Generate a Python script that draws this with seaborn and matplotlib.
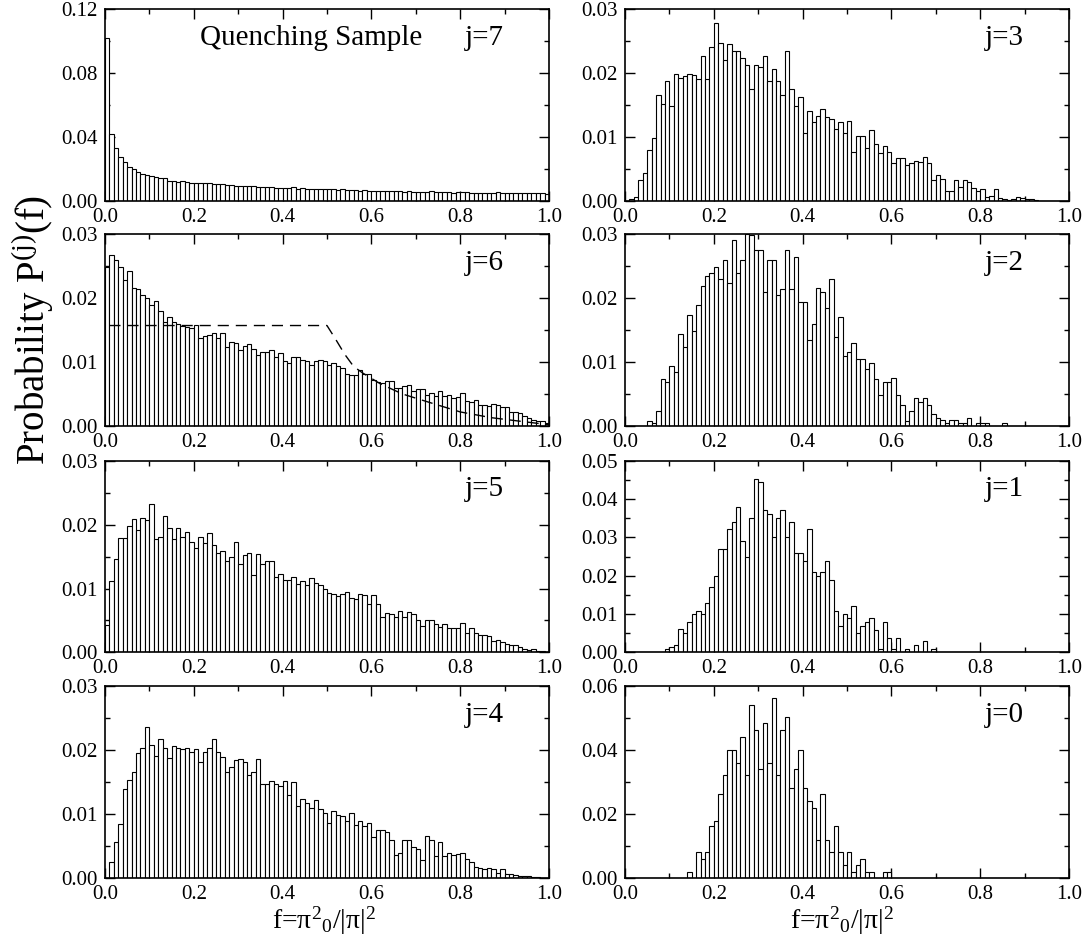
import numpy as np
import pandas as pd
import matplotlib
matplotlib.use("Agg")
import matplotlib.pyplot as plt
import seaborn as sns
from matplotlib.ticker import MultipleLocator, FormatStrFormatter

# 100 bins of width 0.01 on [0, 1]
edges = np.linspace(0.0, 1.0, 101)
centers = (edges[:-1] + edges[1:]) / 2

# probability per bin
p7 = [0.1018, 0.0417, 0.0330, 0.0273, 0.0242, 0.0211, 0.0198, 0.0182, 0.0169, 0.0163,
      0.0157, 0.0148, 0.0142, 0.0142, 0.0125, 0.0125, 0.0121, 0.0125, 0.0117, 0.0115,
      0.0115, 0.0110, 0.0110, 0.0110, 0.0106, 0.0104, 0.0104, 0.0100, 0.0100, 0.0096,
      0.0096, 0.0094, 0.0094, 0.0094, 0.0090, 0.0090, 0.0086, 0.0086, 0.0084, 0.0083,
      0.0081, 0.0083, 0.0086, 0.0077, 0.0079, 0.0075, 0.0075, 0.0075, 0.0073, 0.0073,
      0.0073, 0.0073, 0.0069, 0.0073, 0.0069, 0.0067, 0.0067, 0.0063, 0.0067, 0.0065,
      0.0063, 0.0065, 0.0065, 0.0063, 0.0063, 0.0061, 0.0061, 0.0058, 0.0061, 0.0058,
      0.0056, 0.0058, 0.0056, 0.0061, 0.0056, 0.0058, 0.0054, 0.0054, 0.0052, 0.0056,
      0.0056, 0.0054, 0.0052, 0.0052, 0.0052, 0.0050, 0.0052, 0.0052, 0.0054, 0.0052,
      0.0050, 0.0050, 0.0052, 0.0050, 0.0050, 0.0052, 0.0052, 0.0050, 0.0048, 0.0044]

p6 = [0.0249, 0.0268, 0.0260, 0.0249, 0.0228, 0.0242, 0.0215, 0.0214, 0.0205, 0.0200,
      0.0189, 0.0195, 0.0180, 0.0163, 0.0170, 0.0163, 0.0159, 0.0156, 0.0155, 0.0153,
      0.0158, 0.0138, 0.0140, 0.0142, 0.0145, 0.0137, 0.0145, 0.0124, 0.0131, 0.0129,
      0.0119, 0.0125, 0.0128, 0.0121, 0.0111, 0.0115, 0.0116, 0.0118, 0.0108, 0.0114,
      0.0101, 0.0099, 0.0108, 0.0108, 0.0103, 0.0101, 0.0095, 0.0101, 0.0103, 0.0101,
      0.0095, 0.0099, 0.0093, 0.0090, 0.0081, 0.0079, 0.0080, 0.0088, 0.0082, 0.0082,
      0.0072, 0.0069, 0.0067, 0.0070, 0.0070, 0.0059, 0.0059, 0.0063, 0.0064, 0.0054,
      0.0058, 0.0058, 0.0049, 0.0051, 0.0047, 0.0054, 0.0047, 0.0049, 0.0044, 0.0046,
      0.0052, 0.0039, 0.0038, 0.0041, 0.0033, 0.0033, 0.0032, 0.0035, 0.0033, 0.0030,
      0.0029, 0.0022, 0.0022, 0.0020, 0.0015, 0.0012, 0.0010, 0.0008, 0.0008, 0.0004]

p5 = [0.0043, 0.0112, 0.0146, 0.0179, 0.0179, 0.0198, 0.0209, 0.0192, 0.0210, 0.0207,
      0.0232, 0.0177, 0.0180, 0.0214, 0.0195, 0.0178, 0.0195, 0.0181, 0.0189, 0.0173,
      0.0164, 0.0180, 0.0171, 0.0187, 0.0168, 0.0155, 0.0159, 0.0143, 0.0149, 0.0172,
      0.0139, 0.0153, 0.0156, 0.0121, 0.0154, 0.0139, 0.0143, 0.0143, 0.0118, 0.0122,
      0.0114, 0.0114, 0.0118, 0.0107, 0.0111, 0.0105, 0.0117, 0.0109, 0.0105, 0.0100,
      0.0093, 0.0092, 0.0088, 0.0091, 0.0094, 0.0085, 0.0083, 0.0091, 0.0090, 0.0076,
      0.0090, 0.0076, 0.0056, 0.0062, 0.0060, 0.0056, 0.0065, 0.0055, 0.0064, 0.0060,
      0.0051, 0.0041, 0.0051, 0.0051, 0.0044, 0.0040, 0.0045, 0.0039, 0.0039, 0.0038,
      0.0046, 0.0031, 0.0038, 0.0030, 0.0028, 0.0027, 0.0025, 0.0018, 0.0020, 0.0017,
      0.0013, 0.0011, 0.0011, 0.0009, 0.0005, 0.0004, 0.0005, 0.0002, 0.0002, 0.0001]

p4 = [0.0001, 0.0025, 0.0056, 0.0085, 0.0140, 0.0154, 0.0166, 0.0195, 0.0203, 0.0237,
      0.0208, 0.0191, 0.0217, 0.0203, 0.0188, 0.0207, 0.0204, 0.0202, 0.0203, 0.0198,
      0.0202, 0.0182, 0.0197, 0.0204, 0.0218, 0.0197, 0.0190, 0.0166, 0.0174, 0.0185,
      0.0187, 0.0182, 0.0162, 0.0166, 0.0186, 0.0147, 0.0147, 0.0152, 0.0148, 0.0144,
      0.0152, 0.0130, 0.0151, 0.0113, 0.0124, 0.0117, 0.0110, 0.0122, 0.0108, 0.0102,
      0.0087, 0.0105, 0.0099, 0.0097, 0.0089, 0.0102, 0.0083, 0.0090, 0.0081, 0.0086,
      0.0065, 0.0076, 0.0075, 0.0072, 0.0059, 0.0037, 0.0040, 0.0060, 0.0059, 0.0049,
      0.0046, 0.0029, 0.0066, 0.0059, 0.0035, 0.0056, 0.0035, 0.0040, 0.0037, 0.0038,
      0.0040, 0.0030, 0.0026, 0.0017, 0.0016, 0.0015, 0.0016, 0.0014, 0.0008, 0.0014,
      0.0007, 0.0006, 0.0005, 0.0004, 0.0003, 0.0003, 0.0002, 0.0002, 0.0001, 0.0001]

p3 = [0.0000, 0.0003, 0.0007, 0.0033, 0.0043, 0.0080, 0.0098, 0.0166, 0.0152, 0.0188,
      0.0149, 0.0199, 0.0192, 0.0195, 0.0199, 0.0197, 0.0190, 0.0226, 0.0190, 0.0240,
      0.0278, 0.0247, 0.0221, 0.0245, 0.0234, 0.0235, 0.0223, 0.0213, 0.0175, 0.0213,
      0.0210, 0.0227, 0.0188, 0.0206, 0.0188, 0.0166, 0.0234, 0.0175, 0.0148, 0.0162,
      0.0107, 0.0140, 0.0124, 0.0133, 0.0143, 0.0131, 0.0128, 0.0112, 0.0123, 0.0107,
      0.0125, 0.0077, 0.0101, 0.0101, 0.0083, 0.0111, 0.0089, 0.0075, 0.0086, 0.0077,
      0.0059, 0.0067, 0.0067, 0.0056, 0.0059, 0.0062, 0.0061, 0.0069, 0.0059, 0.0033,
      0.0041, 0.0035, 0.0016, 0.0015, 0.0033, 0.0022, 0.0033, 0.0030, 0.0020, 0.0015,
      0.0018, 0.0007, 0.0008, 0.0018, 0.0004, 0.0003, 0.0002, 0.0003, 0.0006, 0.0004,
      0.0003, 0.0003, 0.0001, 0.0000, 0.0000, 0.0000, 0.0000, 0.0000, 0.0000, 0.0000]

p2 = [0.0000, 0.0000, 0.0000, 0.0000, 0.0000, 0.0008, 0.0004, 0.0024, 0.0074, 0.0069,
      0.0094, 0.0085, 0.0144, 0.0124, 0.0174, 0.0149, 0.0189, 0.0219, 0.0234, 0.0239,
      0.0248, 0.0230, 0.0260, 0.0224, 0.0290, 0.0239, 0.0260, 0.0300, 0.0298, 0.0275,
      0.0275, 0.0209, 0.0260, 0.0260, 0.0205, 0.0214, 0.0275, 0.0214, 0.0264, 0.0194,
      0.0194, 0.0134, 0.0160, 0.0215, 0.0209, 0.0185, 0.0230, 0.0139, 0.0170, 0.0110,
      0.0115, 0.0129, 0.0104, 0.0104, 0.0089, 0.0099, 0.0074, 0.0049, 0.0069, 0.0069,
      0.0075, 0.0049, 0.0033, 0.0008, 0.0024, 0.0043, 0.0038, 0.0043, 0.0033, 0.0019,
      0.0013, 0.0009, 0.0004, 0.0009, 0.0009, 0.0004, 0.0004, 0.0013, 0.0000, 0.0004,
      0.0004, 0.0004, 0.0000, 0.0000, 0.0000, 0.0004, 0.0000, 0.0000, 0.0000, 0.0000,
      0.0000, 0.0000, 0.0000, 0.0000, 0.0000, 0.0000, 0.0000, 0.0000, 0.0000, 0.0000]

p1 = [0.0000, 0.0000, 0.0000, 0.0000, 0.0000, 0.0000, 0.0000, 0.0000, 0.0000, 0.0010,
      0.0013, 0.0019, 0.0060, 0.0050, 0.0080, 0.0100, 0.0109, 0.0100, 0.0130, 0.0170,
      0.0199, 0.0270, 0.0270, 0.0321, 0.0339, 0.0380, 0.0290, 0.0250, 0.0350, 0.0451,
      0.0443, 0.0370, 0.0361, 0.0300, 0.0350, 0.0370, 0.0300, 0.0341, 0.0260, 0.0260,
      0.0239, 0.0321, 0.0209, 0.0199, 0.0209, 0.0239, 0.0190, 0.0109, 0.0070, 0.0100,
      0.0089, 0.0121, 0.0050, 0.0070, 0.0080, 0.0089, 0.0058, 0.0010, 0.0080, 0.0039,
      0.0010, 0.0039, 0.0000, 0.0010, 0.0000, 0.0019, 0.0000, 0.0030, 0.0000, 0.0010,
      0.0000, 0.0000, 0.0000, 0.0000, 0.0000, 0.0000, 0.0000, 0.0000, 0.0000, 0.0000,
      0.0000, 0.0000, 0.0000, 0.0000, 0.0000, 0.0000, 0.0000, 0.0000, 0.0000, 0.0000,
      0.0000, 0.0000, 0.0000, 0.0000, 0.0000, 0.0000, 0.0000, 0.0000, 0.0000, 0.0000]

p0 = [0.0000, 0.0000, 0.0000, 0.0000, 0.0000, 0.0000, 0.0000, 0.0000, 0.0000, 0.0000,
      0.0000, 0.0000, 0.0000, 0.0000, 0.0019, 0.0000, 0.0081, 0.0059, 0.0081, 0.0162,
      0.0180, 0.0262, 0.0323, 0.0401, 0.0401, 0.0361, 0.0443, 0.0323, 0.0542, 0.0463,
      0.0342, 0.0484, 0.0361, 0.0562, 0.0323, 0.0463, 0.0503, 0.0283, 0.0342, 0.0401,
      0.0283, 0.0241, 0.0220, 0.0120, 0.0262, 0.0120, 0.0081, 0.0162, 0.0081, 0.0040,
      0.0081, 0.0019, 0.0040, 0.0059, 0.0019, 0.0019, 0.0000, 0.0000, 0.0019, 0.0019,
      0.0000, 0.0000, 0.0000, 0.0000, 0.0000, 0.0000, 0.0000, 0.0000, 0.0000, 0.0000,
      0.0000, 0.0000, 0.0000, 0.0000, 0.0000, 0.0000, 0.0000, 0.0000, 0.0000, 0.0000,
      0.0000, 0.0000, 0.0000, 0.0000, 0.0000, 0.0000, 0.0000, 0.0000, 0.0000, 0.0000,
      0.0000, 0.0000, 0.0000, 0.0000, 0.0000, 0.0000, 0.0000, 0.0000, 0.0000, 0.0000]

# dashed reference curve in the j=6 panel
dash_f = [0.01, 0.50, 0.52, 0.54, 0.56, 0.58, 0.62, 0.67, 0.73, 0.80, 0.87, 0.94, 1.00]
dash_p = [0.0157, 0.0157, 0.0135, 0.0112, 0.0093, 0.0083, 0.0066, 0.0050, 0.0037,
          0.0022, 0.0013, 0.0007, 0.0002]

# (label, values, ymax, major, minor, column, row)
panels = [
    ("j=7", p7, 0.12, 0.04, 0.02, 0, 0),
    ("j=6", p6, 0.03, 0.01, 0.005, 0, 1),
    ("j=5", p5, 0.03, 0.01, 0.005, 0, 2),
    ("j=4", p4, 0.03, 0.01, 0.005, 0, 3),
    ("j=3", p3, 0.03, 0.01, 0.005, 1, 0),
    ("j=2", p2, 0.03, 0.01, 0.005, 1, 1),
    ("j=1", p1, 0.05, 0.01, 0.005, 1, 2),
    ("j=0", p0, 0.06, 0.02, 0.01, 1, 3),
]

sns.set_theme(style="ticks")
plt.rcParams["font.family"] = ["Liberation Serif", "DejaVu Serif"]
plt.rcParams["mathtext.fontset"] = "custom"
plt.rcParams["mathtext.rm"] = "Liberation Serif"
plt.rcParams["mathtext.it"] = "Liberation Serif:italic"
plt.rcParams["axes.edgecolor"] = "black"
plt.rcParams["axes.linewidth"] = 1.2
plt.rcParams["text.color"] = "black"

fig = plt.figure(figsize=(10.91, 9.41), dpi=100)

col_left = [0.0962, 0.5729]
row_bottom = [0.7864, 0.5473, 0.3066, 0.0667]
w, h = 0.407, 0.204
bin_list = edges.tolist()

for label, vals, ymax, major, minor, col, row in panels:
    ax = fig.add_axes([col_left[col], row_bottom[row], w, h])
    df = pd.DataFrame({"f": centers, "p": vals})
    sns.histplot(data=df, x="f", weights="p", bins=bin_list, ax=ax, stat="count",
                 color="white", edgecolor="black", linewidth=0.8, alpha=1.0)
    if label == "j=6":
        sns.lineplot(x=dash_f, y=dash_p, ax=ax, color="black", linewidth=1.0,
                     linestyle=(0, (8, 5)))
    ax.set_xlim(0, 1)
    ax.set_ylim(0, ymax)
    ax.xaxis.set_major_locator(MultipleLocator(0.2))
    ax.xaxis.set_minor_locator(MultipleLocator(0.1))
    ax.yaxis.set_major_locator(MultipleLocator(major))
    ax.yaxis.set_minor_locator(MultipleLocator(minor))
    ax.xaxis.set_major_formatter(FormatStrFormatter("%.1f"))
    ax.yaxis.set_major_formatter(FormatStrFormatter("%.2f"))
    ax.tick_params(which="both", direction="in", top=True, right=True,
                   colors="black", labelsize=15, width=1.0)
    ax.tick_params(which="major", length=7, pad=5)
    ax.tick_params(which="minor", length=3.5)
    ax.set_xlabel("")
    ax.set_ylabel("")
    ax.text(0.81, 0.85, label, transform=ax.transAxes, fontsize=21,
            ha="left", va="center", color="black")
    if label == "j=7":
        ax.text(0.464, 0.85, "Quenching Sample", transform=ax.transAxes,
                fontsize=21, ha="center", va="center", color="black")

fig.text(0.030, 0.649, r"Probability P$^{\mathrm{(j)}}$(f)", rotation=90,
         fontsize=28, ha="center", va="center", color="black")
xlab = r"f=$\mathrm{\pi}^{2}{}_{0}$/|$\mathrm{\pi}$|$^{2}$"
fig.text(0.297, 0.022, xlab, fontsize=20, ha="center", va="center", color="black")
fig.text(0.772, 0.022, xlab, fontsize=20, ha="center", va="center", color="black")

fig.savefig("out.png", dpi=100)
